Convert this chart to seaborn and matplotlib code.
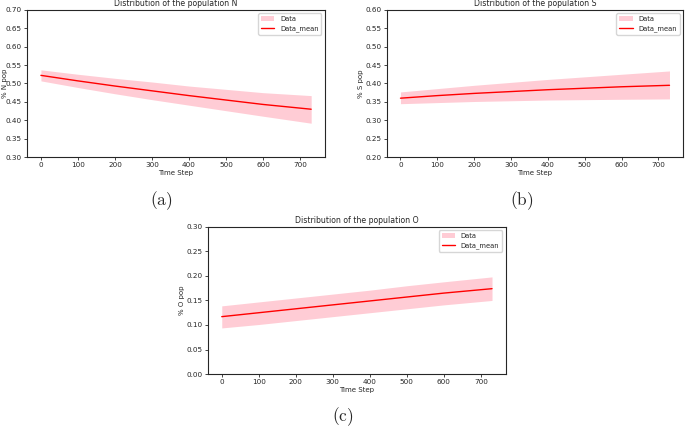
import numpy as np
import pandas as pd
import matplotlib
matplotlib.use("Agg")
import matplotlib.pyplot as plt
import seaborn as sns

steps = [0, 100, 200, 300, 400, 500, 600, 730]

# population N
n_mean = [0.522, 0.507, 0.493, 0.480, 0.467, 0.455, 0.443, 0.430]
n_low = [0.507, 0.489, 0.472, 0.456, 0.441, 0.426, 0.411, 0.392]
n_high = [0.537, 0.525, 0.514, 0.504, 0.493, 0.484, 0.475, 0.467]

# population S
s_mean = [0.360, 0.367, 0.373, 0.378, 0.383, 0.387, 0.391, 0.395]
s_low = [0.345, 0.348, 0.351, 0.353, 0.355, 0.356, 0.357, 0.358]
s_high = [0.377, 0.386, 0.395, 0.403, 0.411, 0.418, 0.425, 0.434]

# population O
o_mean = [0.117, 0.125, 0.133, 0.141, 0.149, 0.157, 0.165, 0.174]
o_low = [0.094, 0.101, 0.109, 0.117, 0.125, 0.133, 0.141, 0.150]
o_high = [0.139, 0.147, 0.155, 0.163, 0.171, 0.180, 0.188, 0.198]

sns.set_style("ticks")
plt.rcParams["font.family"] = ["DejaVu Sans"]
plt.rcParams["mathtext.fontset"] = "cm"

fig = plt.figure(figsize=(6.85, 4.28), dpi=100)

# name, mean, low, high, ylim, axes rect, ylabel x, tag, tag position
panels = [
    ("N", n_mean, n_low, n_high, (0.30, 0.70), [0.040, 0.633, 0.434, 0.344], -0.066, "a", (0.236, 0.531)),
    ("S", s_mean, s_low, s_high, (0.20, 0.60), [0.565, 0.633, 0.432, 0.344], -0.078, "b", (0.761, 0.531)),
    ("O", o_mean, o_low, o_high, (0.00, 0.30), [0.304, 0.126, 0.434, 0.344], -0.077, "c", (0.501, 0.026)),
]

for name, mean, low, high, ylim, rect, ylab_x, tag, pos in panels:
    ax = fig.add_axes(rect)
    df = pd.DataFrame({"step": steps, "mean": mean, "low": low, "high": high})
    ax.fill_between(df["step"], df["low"], df["high"], color="pink", alpha=0.8,
                    linewidth=0, label="Data")
    sns.lineplot(data=df, x="step", y="mean", color="red", linewidth=1.0,
                 label="Data_mean", ax=ax)
    ax.set_ylim(*ylim)
    ax.set_yticks(np.arange(ylim[0], ylim[1] + 0.001, 0.05))
    ax.yaxis.set_major_formatter(matplotlib.ticker.FormatStrFormatter("%.2f"))
    ax.set_xticks(range(0, 800, 100))
    ax.set_xlim(-36.5, 766.5)
    ax.tick_params(labelsize=5.2, length=2, width=0.6, pad=1.8)
    for sp in ax.spines.values():
        sp.set_linewidth(0.8)
    ax.set_title(f"Distribution of the population {name}", fontsize=5.6, pad=2.5)
    ax.set_xlabel("Time Step", fontsize=5.0, labelpad=1.5)
    ax.set_ylabel(f"% {name} pop", fontsize=5.0)
    ax.yaxis.set_label_coords(ylab_x, 0.5)
    ax.legend(loc="upper right", fontsize=4.9)
    fig.text(pos[0], pos[1], rf"$(\mathrm{{{tag}}})$", fontsize=12.5, ha="center", va="center")

fig.savefig("out.png", dpi=100)
